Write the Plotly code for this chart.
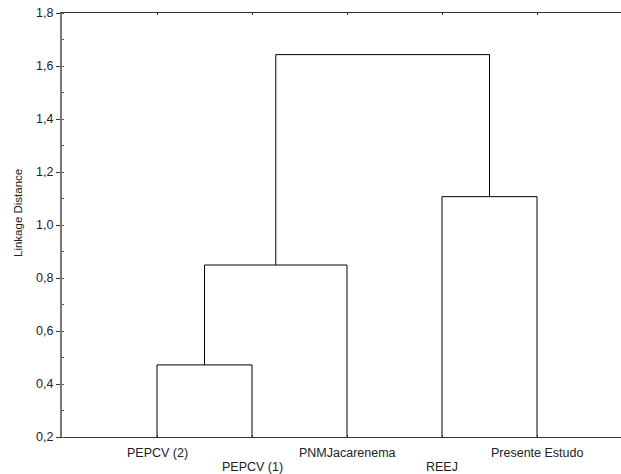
import plotly.graph_objects as go

leaves = ["PEPCV (2)", "PEPCV (1)", "PNMJacarenema", "REEJ", "Presente Estudo"]
leaf_pos = [1, 2, 3, 4, 5]
h_a = 0.472   # PEPCV(2)+PEPCV(1)
h_b = 0.849   # (A)+PNMJacarenema
h_c = 1.107   # REEJ+Presente Estudo
h_d = 1.643   # top
base = 0.2
label_row = [0, 1, 0, 1, 0]

FONT = "Liberation Sans, Arial"
fig = go.Figure()

def link(x1, x2, y1, y2, h):
    fig.add_trace(go.Scatter(x=[x1, x1, x2, x2], y=[y1, h, h, y2], mode="lines",
                             line=dict(color="black", width=1), hoverinfo="skip",
                             showlegend=False))

xa = (leaf_pos[0] + leaf_pos[1]) / 2
link(leaf_pos[0], leaf_pos[1], base, base, h_a)
xb = (xa + leaf_pos[2]) / 2
link(xa, leaf_pos[2], h_a, base, h_b)
xc = (leaf_pos[3] + leaf_pos[4]) / 2
link(leaf_pos[3], leaf_pos[4], base, base, h_c)
link(xb, xc, h_b, h_c, h_d)

for name, xp, row in zip(leaves, leaf_pos, label_row):
    fig.add_annotation(x=xp, y=0, xref="x", yref="paper", text=name, showarrow=False,
                       yanchor="top", yshift=-7 - 14 * row,
                       font=dict(family=FONT, size=12.5, color="#222"))

fig.add_annotation(x=0, y=0.5, xref="paper", yref="paper", text="Linkage Distance",
                   textangle=-90, showarrow=False, xanchor="center", xshift=-44, yshift=12,
                   font=dict(family=FONT, size=11.5, color="#222"))

fig.update_layout(
    width=621, height=474,
    margin=dict(l=62, r=0, t=13, b=37),
    plot_bgcolor="white", paper_bgcolor="white",
    separators=", ",
    font=dict(family=FONT, size=12, color="#222"),
    xaxis=dict(range=[0, 5.884], showgrid=False, zeroline=False, showline=True,
               linecolor="#333", linewidth=1, mirror="ticks", tickvals=leaf_pos,
               ticks="inside", ticklen=2, tickcolor="#333", showticklabels=False),
    yaxis=dict(range=[0.2, 1.8], showgrid=False, zeroline=False, showline=True,
               linecolor="#777", linewidth=2, dtick=0.2, tick0=0.2, tickformat=".1f",
               ticks="outside", ticklen=4, tickcolor="#333",
               minor=dict(dtick=0.1, ticks="inside", ticklen=2, tickcolor="#555"),
               tickfont=dict(size=12.5)),
)

fig.write_html("out.html")
